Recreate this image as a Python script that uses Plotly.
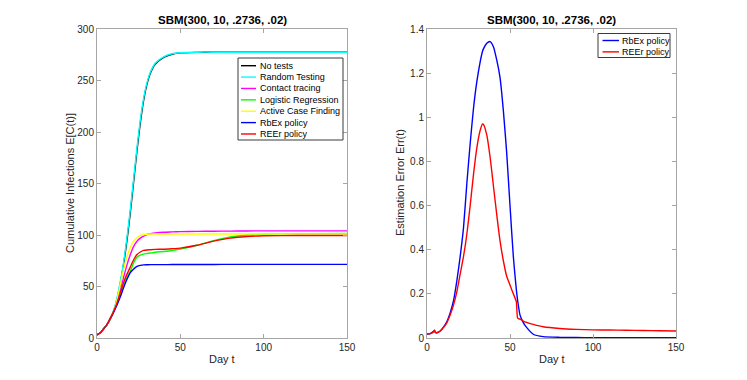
import plotly.graph_objects as go

# ---------------- data: left panel (cumulative infections) ----------------
days_left = [0, 2, 4, 6, 8, 10, 12, 14, 16, 18, 20, 22, 24, 26, 28, 30, 32, 35,
             40, 45, 50, 60, 70, 80, 90, 100, 120, 150]

no_tests = [3, 5, 9, 13, 18.5, 26, 37.5, 53, 72, 95, 122, 152, 182, 209, 231,
            246.5, 257, 266, 272.5, 275.5, 276.8, 277.3, 277.5, 277.5, 277.5,
            277.5, 277.5, 277.5]
random_testing = [3, 5, 9, 13, 19, 27, 39, 55, 74, 98, 125, 155, 185, 212, 233,
                  248, 258, 267, 273, 276, 277, 277.5, 277.5, 277.5, 277.5,
                  277.5, 277.5, 277.5]
contact_tracing = [3, 5, 9, 13, 19, 26, 35, 46, 59, 71, 81, 89, 94, 97, 99,
                   100.5, 101.2, 102, 102.7, 103, 103.3, 103.5, 103.7, 103.8,
                   103.9, 104, 104, 104]
logistic_regression = [3, 5, 9, 13, 19, 26, 33, 42, 52, 59, 65, 73, 78.5, 80.5,
                       81.5, 82, 82.5, 83.2, 84, 85, 86.4, 90, 94.5, 98, 100,
                       100.8, 101.3, 101.6]
active_case_finding = [3, 5, 9, 13, 19, 26, 37, 52, 67, 79, 88, 94, 97.5, 99.5,
                       100.3, 100.7, 101, 101, 101, 101, 101, 101, 101, 101,
                       101, 101, 101, 101]
rbex_left = [3, 5, 9, 13, 19, 25, 32, 40, 49, 57, 63.5, 67, 69.5, 70.5, 71,
             71.1, 71.2, 71.2, 71.2, 71.3, 71.3, 71.4, 71.4, 71.5, 71.5, 71.5,
             71.5, 71.5]
reer_left = [3, 5, 9, 13, 19, 26, 34, 44, 54, 62, 69, 76, 81, 83.5, 85, 85.5,
             85.7, 86, 86.2, 86.7, 87.3, 90, 94, 97, 98.5, 99.2, 99.5, 99.5]

# ---------------- data: right panel (estimation error) ----------------
days_right = [0, 2, 4, 4.5, 5, 6, 8, 10, 12, 14, 16, 18, 20, 22, 24, 26, 28, 30,
              32, 33.5, 34, 36, 38, 40, 42, 44, 46, 48, 50, 52, 53.8, 54.6, 56,
              58, 60, 64, 70, 80, 90, 100, 110, 120, 130, 140, 150]
rbex_err = [0.018, 0.02, 0.03, 0.035, 0.025, 0.024, 0.032, 0.05, 0.075, 0.115,
            0.17, 0.26, 0.37, 0.5, 0.7, 0.88, 1.04, 1.16, 1.25, 1.3, 1.31,
            1.335, 1.343, 1.32, 1.26, 1.18, 1.03, 0.84, 0.6, 0.37, 0.22, 0.17,
            0.105, 0.07, 0.048, 0.017, 0.006, 0.003, 0.002, 0.001, 0.001,
            0.001, 0.001, 0.001, 0.001]
reer_err = [0.018, 0.02, 0.03, 0.035, 0.025, 0.024, 0.032, 0.048, 0.07, 0.105,
            0.15, 0.21, 0.29, 0.37, 0.47, 0.6, 0.74, 0.86, 0.94, 0.97, 0.968,
            0.92, 0.82, 0.69, 0.56, 0.44, 0.35, 0.28, 0.24, 0.2, 0.165, 0.09,
            0.085, 0.077, 0.071, 0.062, 0.051, 0.043, 0.039, 0.037, 0.036,
            0.035, 0.034, 0.033, 0.032]

title_text = "SBM(300, 10, .2736, .02)"
left_xticks = [0, 50, 100, 150]
left_yticks = [0, 50, 100, 150, 200, 250, 300]
right_yticks = [0, 0.2, 0.4, 0.6, 0.8, 1, 1.2, 1.4]

left_series = [
    ("No tests", no_tests, "#000000"),
    ("Random Testing", random_testing, "#00ffff"),
    ("Contact tracing", contact_tracing, "#ff00ff"),
    ("Logistic Regression", logistic_regression, "#00ff00"),
    ("Active Case Finding", active_case_finding, "#ffff00"),
    ("RbEx policy", rbex_left, "#0000ff"),
    ("REEr policy", reer_left, "#ff0000"),
]
right_series = [
    ("RbEx policy", rbex_err, "#0000ff"),
    ("REEr policy", reer_err, "#ff0000"),
]

FONT = "Liberation Sans, Arial, Helvetica, sans-serif"
# the page body has an 8px margin, so the figure sits at (8, 8) in the window
OX, OY = 8, 8
W, H = 739, 372


def px(x):
    return (x - OX) / W


def py(y):
    return (H - (y - OY)) / H


fig = go.Figure()
for name, vals, col in left_series:
    fig.add_trace(go.Scatter(x=days_left, y=vals, name=name, mode="lines", showlegend=False,
                             line=dict(color=col, width=1.4, shape="spline", smoothing=0.6),
                             xaxis="x", yaxis="y"))
for name, vals, col in right_series:
    fig.add_trace(go.Scatter(x=days_right, y=vals, name=name, mode="lines", showlegend=False,
                             line=dict(color=col, width=1.4, shape="spline", smoothing=0.5),
                             xaxis="x2", yaxis="y2"))

ax_common = dict(showgrid=False, zeroline=False, showline=True, linecolor="#a6a6a6",
                 linewidth=1, mirror="ticks", ticks="inside", ticklen=4, automargin=False,
                 tickcolor="#a6a6a6", tickfont=dict(size=10, color="#262626", family=FONT))

yd = [py(338), py(29)]
fig.update_layout(
    template="none",
    width=W, height=H, margin=dict(l=0, r=0, t=0, b=0, pad=0), autosize=False,
    paper_bgcolor="white", plot_bgcolor="white",
    font=dict(family=FONT, color="#262626"),
    xaxis=dict(domain=[px(97), px(347)], range=[0, 150], tickvals=left_xticks, anchor="y", **ax_common),
    yaxis=dict(domain=yd, range=[0, 300], tickvals=left_yticks, anchor="x", **ax_common),
    xaxis2=dict(domain=[px(427), px(676)], range=[0, 150], tickvals=left_xticks, anchor="y2", **ax_common),
    yaxis2=dict(domain=yd, range=[0, 1.4], tickvals=right_yticks, anchor="x2", **ax_common),
    showlegend=False,
)

ann = [
    dict(text="<b>" + title_text + "</b>", x=px(222), y=py(20), font=dict(size=11.5, color="#000000")),
    dict(text="<b>" + title_text + "</b>", x=px(551.5), y=py(20), font=dict(size=11.5, color="#000000")),
    dict(text="Day t", x=px(222), y=py(359), font=dict(size=11, color="#262626")),
    dict(text="Day t", x=px(551.5), y=py(359), font=dict(size=11, color="#262626")),
    dict(text="Cumulative Infections E[C(t)]", x=px(70), y=py(183), textangle=-90,
         font=dict(size=11, color="#262626")),
    dict(text="Estimation Error Err(t)", x=px(400), y=py(183), textangle=-90,
         font=dict(size=11, color="#262626")),
]
for a in ann:
    a.update(xref="paper", yref="paper", showarrow=False, xanchor="center", yanchor="middle")
    fig.add_annotation(**a)


# ---------------- compact MATLAB-style legends ----------------
def add_legend(entries, box, row0, line_x, text_x, step=11.38):
    x0, x1, y0, y1 = box
    fig.add_shape(type="rect", xref="paper", yref="paper",
                  x0=px(x0), x1=px(x1), y0=py(y1), y1=py(y0),
                  line=dict(color="#3a3a3a", width=1), fillcolor="white", layer="above")
    for i, (name, _, col) in enumerate(entries):
        yy = row0 + i * step
        fig.add_shape(type="line", xref="paper", yref="paper",
                      x0=px(line_x[0]), x1=px(line_x[1]), y0=py(yy), y1=py(yy),
                      line=dict(color=col, width=1.4), layer="above")
        fig.add_annotation(text=name, xref="paper", yref="paper", x=px(text_x), y=py(yy),
                           xanchor="left", yanchor="middle", showarrow=False,
                           font=dict(size=9, color="#000000", family=FONT))


add_legend(left_series, (238, 343, 58, 140), 65.7, (241, 256), 257.5)
add_legend(right_series, (598, 670, 33.5, 57.5), 40.5, (602.5, 619), 620)

fig.write_html("out.html")
